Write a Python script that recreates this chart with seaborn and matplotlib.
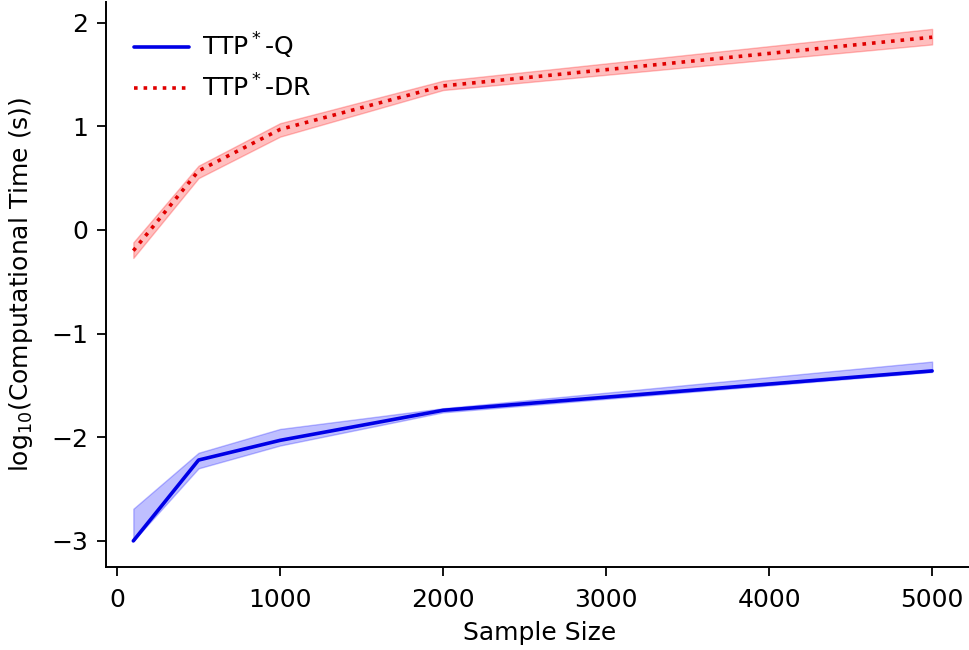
import numpy as np
import pandas as pd
import matplotlib
matplotlib.use("Agg")
import matplotlib.pyplot as plt
import seaborn as sns

sample_sizes = [100, 500, 1000, 2000, 5000]

q_mean = [-3.00, -2.22, -2.03, -1.74, -1.36]
q_low = [-3.00, -2.30, -2.08, -1.76, -1.37]
q_high = [-2.69, -2.15, -1.92, -1.72, -1.27]

dr_mean = [-0.20, 0.57, 0.97, 1.39, 1.86]
dr_low = [-0.27, 0.50, 0.90, 1.35, 1.79]
dr_high = [-0.12, 0.62, 1.03, 1.44, 1.94]

labels = ["TTP$^*$-Q", "TTP$^*$-DR"]

sns.set_style("ticks")
plt.rcParams["font.family"] = ["DejaVu Sans"]
plt.rcParams["text.color"] = "black"
plt.rcParams["axes.labelcolor"] = "black"
plt.rcParams["xtick.color"] = "black"
plt.rcParams["ytick.color"] = "black"
plt.rcParams["axes.edgecolor"] = "black"

df = pd.DataFrame({
    "Sample Size": sample_sizes * 2,
    "value": q_mean + dr_mean,
    "method": [labels[0]] * len(sample_sizes) + [labels[1]] * len(sample_sizes),
})

fig = plt.figure(figsize=(9.69, 6.5), dpi=100)
ax = fig.add_axes([0.109, 0.128, 0.895, 0.869])

sns.lineplot(data=df[df.method == labels[0]], x="Sample Size", y="value",
             color="#0000e6", linewidth=2.6, label=labels[0], ax=ax)
sns.lineplot(data=df[df.method == labels[1]], x="Sample Size", y="value",
             color="#e00000", linewidth=2.6, linestyle=":", label=labels[1], ax=ax)

ax.fill_between(sample_sizes, q_low, q_high, color="#0000ff", alpha=0.25, linewidth=1)
ax.fill_between(sample_sizes, dr_low, dr_high, color="#ff0000", alpha=0.25, linewidth=1)

ax.set_xlim(-70, 5250)
ax.set_ylim(-3.25, 2.2)
ax.set_xticks([0, 1000, 2000, 3000, 4000, 5000])
ax.set_yticks([-3, -2, -1, 0, 1, 2])
ax.tick_params(labelsize=18, width=1.3, length=6.5)
ax.tick_params(axis="x", pad=9)
ax.tick_params(axis="y", pad=6)
ax.set_xlabel("Sample Size", fontsize=18, labelpad=6)
ax.set_ylabel("log$_{10}$(Computational Time (s))", fontsize=18, labelpad=12)
for s in ["left", "bottom"]:
    ax.spines[s].set_linewidth(1.4)
sns.despine(ax=ax)

ax.legend(loc="upper left", frameon=False, fontsize=18, handlelength=2.2,
          handletextpad=0.5, borderaxespad=0.75, labelspacing=0.55)

fig.savefig("out.png", dpi=100)
